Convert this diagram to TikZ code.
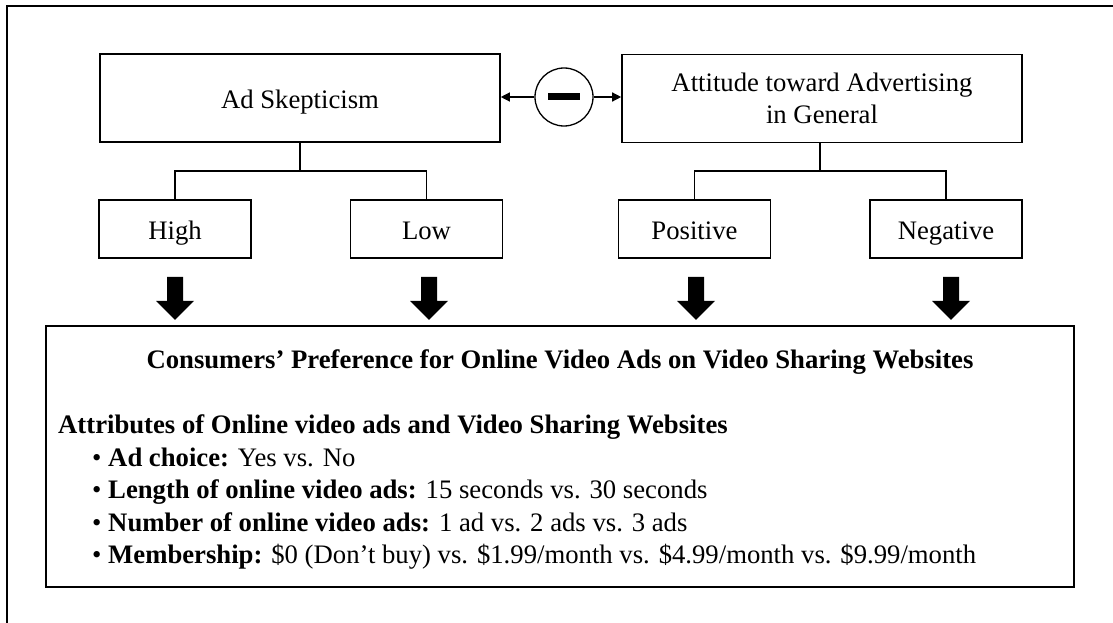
\documentclass[tikz,border=0pt]{standalone}
\usepackage{fontspec}
\setmainfont{Liberation Serif}
\usetikzlibrary{arrows.meta,calc}
\begin{document}
\begin{tikzpicture}[x=1pt,y=-1pt,
  box/.style={draw, line width=1.6pt, inner sep=0pt},
  smallbox/.style={box, minimum width=152, minimum height=58},
  bigbox/.style={box, minimum width=400, minimum height=88},
  lbl/.style={font=\fontsize{26.7}{32.5}\selectfont, anchor=base, inner sep=0pt},
  link/.style={line width=1.3pt},
  tip/.style={link, -{Triangle[length=9,width=9]}},
  blockarrow/.pic={\fill (-8,0) -- (8,0) -- (8,24) -- (19,24) -- (0,43) -- (-19,24) -- (-8,24) -- cycle;}
]
\useasboundingbox (0,0) rectangle (1113,623);
\draw[line width=1.5pt] (7,623) -- (7,6) -- (1113,6);

% top boxes
\node[bigbox] (skep) at (300,98) {};
\node[lbl] (skeptxt) at ($(skep.center)+(0,11)$) {Ad Skepticism};
\node[bigbox] (att) at (822,98.5) {};
\node[lbl] (atttxt1) at (822,92) {Attitude toward Advertising};
\node[lbl] (atttxt2) at (822,124) {in General};

% negative relation
\node[circle, draw, line width=1.3pt, minimum size=58, inner sep=0pt] (circ) at (564,97) {};
\node[fill=black, minimum width=32, minimum height=7, inner sep=0pt] (bar) at (circ.center) {};
\draw[tip] (circ.west) -- (skep.east |- circ.west);
\draw[tip] (circ.east) -- (att.west |- circ.east);

% small boxes
\node[smallbox] (high) at (175,229) {};
\node[lbl] (hightxt) at ($(high.center)+(0,10)$) {High};
\node[smallbox] (low) at (426.5,229) {};
\node[lbl] (lowtxt) at ($(low.center)+(0,10)$) {Low};
\node[smallbox] (pos) at (694.5,229) {};
\node[lbl] (postxt) at ($(pos.center)+(0,10)$) {Positive};
\node[smallbox] (negt) at (946,229) {};
\node[lbl] (negtxt) at ($(negt.center)+(0,10)$) {Negative};

% tree connectors
\coordinate (j1) at (300,171);
\coordinate (j2) at (820,171);
\draw[link] (skep.south) -- (j1);
\draw[link] (high.north) |- (j1) -| (low.north);
\draw[link] (att.south -| j2) -- (j2);
\draw[link] (pos.north) |- (j2) -| (negt.north);

% block arrows
\pic at ($(high.south)+(0,18)$) {blockarrow};
\pic at ($(low.south)+(2.5,18)$) {blockarrow};
\pic at ($(pos.south)+(1.5,18)$) {blockarrow};
\pic at ($(negt.south)+(5,18)$) {blockarrow};

% bottom box
\node[box, minimum width=1028, minimum height=261] (main) at (560,456.5) {};
\node[lbl] (title) at (560,368) {\bfseries Consumers’ Preference for Online Video Ads on Video Sharing Websites};
\node[lbl, anchor=base west] (attr) at (58,433) {\bfseries Attributes of Online video ads and Video Sharing Websites};
\node[lbl, anchor=base west] (i1) at (92,466) {• \textbf{Ad choice:} Yes vs. No};
\node[lbl, anchor=base west] (i2) at (92,498.5) {• \textbf{Length of online video ads:} 15 seconds vs. 30 seconds};
\node[lbl, anchor=base west] (i3) at (92,531) {• \textbf{Number of online video ads:} 1 ad vs. 2 ads vs. 3 ads};
\node[lbl, anchor=base west] (i4) at (92,563.5) {• \textbf{Membership:} \$0 (Don’t buy) vs. \$1.99/month vs. \$4.99/month vs. \$9.99/month};
\end{tikzpicture}
\end{document}
